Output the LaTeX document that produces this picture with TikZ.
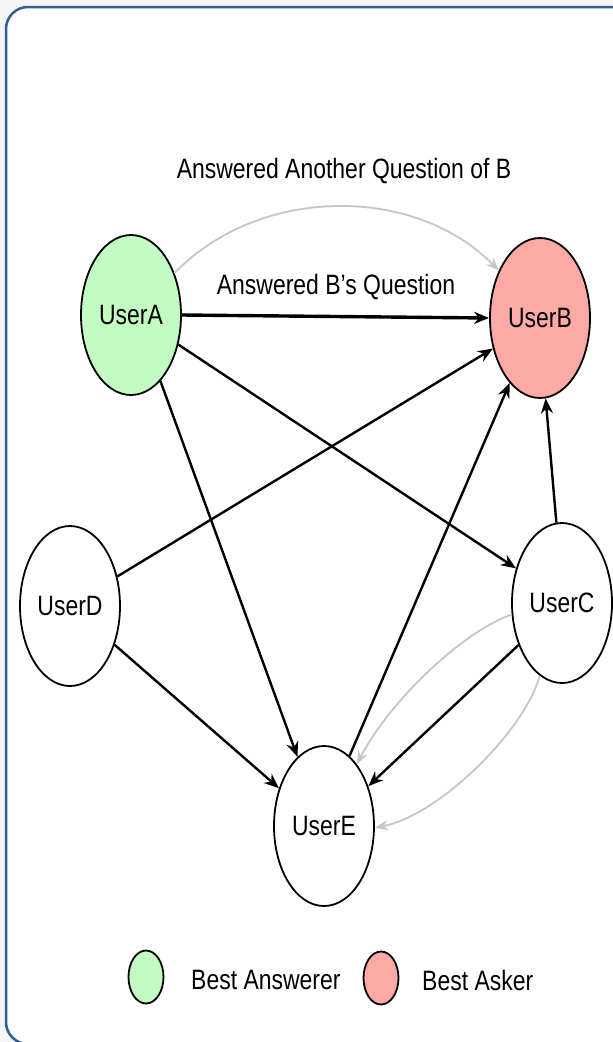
\documentclass[tikz,border=0pt]{standalone}
\usepackage{fontspec}
\setmainfont{Liberation Sans}[FakeStretch=0.82]
\usetikzlibrary{arrows.meta,shapes.geometric}
\definecolor{framec}{RGB}{44,96,152}
\definecolor{answerer}{RGB}{195,252,195}
\definecolor{asker}{RGB}{253,170,166}
\definecolor{softgray}{RGB}{198,198,198}
\definecolor{pagebg}{RGB}{245,245,245}
\begin{document}
\begin{tikzpicture}[x=1pt,y=-1pt,
  user/.style={ellipse, draw=black, line width=1.8pt, minimum width=100pt,
    minimum height=160pt, inner sep=0pt, font=\fontsize{28}{30}\selectfont},
  key/.style={ellipse, draw=black, line width=1.8pt, minimum width=35pt,
    minimum height=53pt, inner sep=0pt},
  link/.style={draw=black, line width=2.4pt, -{Stealth[length=15pt,width=12pt]}},
  echo/.style={draw=softgray, line width=1.8pt, -{Stealth[length=13pt,width=10pt]}},
  caption/.style={font=\fontsize{28}{30}\selectfont, inner sep=0pt}]

% page and frame
\fill[pagebg] (0,0) rectangle (613,1042);
\useasboundingbox (0,0) rectangle (613,1042);
\filldraw[fill=white, draw=framec, line width=2.5pt, rounded corners=22pt]
  (6,7) rectangle (650,1044);

% users
\node[user, fill=answerer] (A) at (131,315) {UserA};
\node[user, fill=asker]    (B) at (540,318) {UserB};
\node[user, fill=white]    (C) at (562,603) {UserC};
\node[user, fill=white]    (D) at (70,606)  {UserD};
\node[user, fill=white]    (E) at (324,826) {UserE};

% edge captions
\node[caption] (capOther) at (344,171) {Answered Another Question of B};
\node[caption] (capDirect) at (336,287) {Answered B's Question};

% grey (earlier) answers
\draw[echo] (A.44) .. controls (260,185) and (415,185) .. (B.131);
\draw[echo] (C.-167) .. controls (465,630) and (390,700) .. (E.62);
\draw[echo] (C.-107) .. controls (525,730) and (440,815) .. (E.-2);

% answers
\draw[link, line width=3.4pt] (A.0) -- (B.180);
\draw[link] (A.-32) -- (C.143);
\draw[link] (A.-66) -- (E.111);
\draw[link] (D.32) -- (B.-147);
\draw[link] (D.-41) -- (E.140);
\draw[link] (E.70) -- (B.-115);
\draw[link] (C.94) -- (B.-86);
\draw[link] (C.-136) -- (E.42);

% legend
\node[key, fill=answerer] (kA) at (146,977) {};
\node[caption, anchor=west] (kAtext) at (191,980) {Best Answerer};
\node[key, fill=asker] (kB) at (381,978) {};
\node[caption, anchor=west] (kBtext) at (422,980) {Best Asker};
\end{tikzpicture}
\end{document}
